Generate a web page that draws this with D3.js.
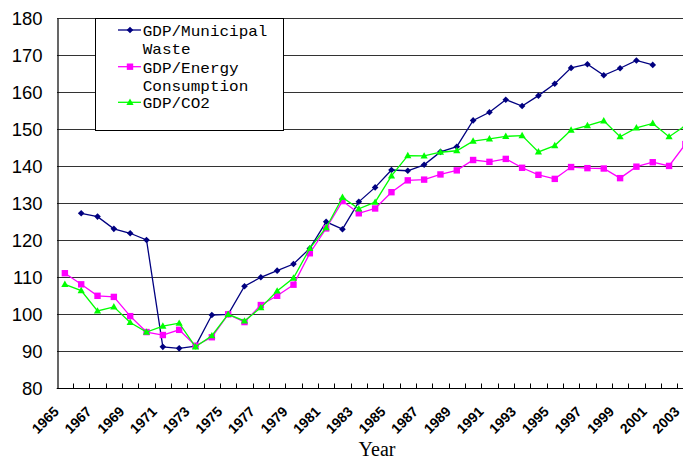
<!DOCTYPE html>
<html><head><meta charset="utf-8">
<script src="https://cdn.jsdelivr.net/npm/d3@7"></script>
<style>html,body{margin:0;padding:0;background:#fff;overflow:hidden}</style>
</head><body>
<svg id="chart" width="683" height="461"></svg>
<script>
const years = ["1965","1966","1967","1968","1969","1970","1971","1972","1973","1974","1975","1976","1977","1978","1979","1980","1981","1982","1983","1984","1985","1986","1987","1988","1989","1990","1991","1992","1993","1994","1995","1996","1997","1998","1999","2000","2001","2002","2003"];
const yearLabels = ["1965","1967","1969","1971","1973","1975","1977","1979","1981","1983","1985","1987","1989","1991","1993","1995","1997","1999","2001","2003"];
const yTicks = [80,90,100,110,120,130,140,150,160,170,180];
const municipalWaste = [null,127.3,126.4,123.1,121.9,120.1,91.2,90.8,91.4,99.8,100.0,107.6,110.0,111.8,113.6,117.8,125.0,123.0,130.4,134.3,139.0,138.8,140.4,143.9,145.3,152.4,154.6,158.0,156.3,159.1,162.3,166.6,167.6,164.6,166.5,168.6,167.4,null,null];
const energy = [111.1,108.1,105.0,104.7,99.5,95.2,94.4,95.8,91.5,93.8,100.0,97.9,102.5,105.0,108.0,116.5,123.2,130.6,127.3,128.6,133.0,136.2,136.4,137.8,138.9,141.7,141.2,142.0,139.6,137.7,136.6,139.8,139.5,139.4,136.8,139.9,141.1,140.1,146.0];
const co2 = [108.1,106.4,100.9,102.0,97.8,95.2,96.8,97.6,91.2,94.2,100.0,98.2,101.8,106.3,109.8,117.8,123.4,131.6,128.5,130.3,137.4,142.9,142.8,143.8,144.2,146.8,147.4,148.1,148.3,143.9,145.6,149.8,151.0,152.3,148.0,150.4,151.6,148.0,151.0];
const seriesNames = [["GDP/Municipal","Waste"],["GDP/Energy","Consumption"],["GDP/CO2"]];

const svg = d3.select("#chart");
svg.append("rect").attr("width",683).attr("height",461).attr("fill","#fff");

const x = d3.scaleBand().domain(years).range([56.7, 56.7 + 16.33*39]).padding(0);
const y = d3.scaleLinear().domain([80,180]).range([388.3, 18.3]);
const cx = d => x(d) + x.bandwidth()/2;

// gridlines
svg.append("g").selectAll("line").data(yTicks.filter(v=>v>80)).join("line")
  .attr("x1",57).attr("x2",700)
  .attr("y1",d=>Math.round(y(d))+0.5).attr("y2",d=>Math.round(y(d))+0.5)
  .attr("stroke","#333").attr("stroke-width",1);

// y axis
const yAxis = d3.axisLeft(y).tickValues(yTicks).tickSize(0).tickPadding(15).tickFormat(d3.format("d"));
const gy = svg.append("g").attr("transform","translate(57.5,0)").call(yAxis);
gy.select(".domain").attr("stroke","#000").attr("stroke-width",1.2);
gy.selectAll("text").attr("font-family","'Liberation Sans', Arial, sans-serif").attr("font-size","18.5px").attr("fill","#000");

// x axis with ticks between categories
const gx = svg.append("g").attr("transform",`translate(0,${Math.round(y(80))+0.5})`);
gx.append("line").attr("x1",56.7).attr("x2",700).attr("stroke","#000").attr("stroke-width",1.2);
gx.selectAll("line.tk").data(years).join("line").attr("class","tk")
  .attr("x1",d=>Math.round(x(d)+x.bandwidth())+0.5).attr("x2",d=>Math.round(x(d)+x.bandwidth())+0.5)
  .attr("y1",0).attr("y2",-5).attr("stroke","#000");
gx.selectAll("text").data(yearLabels).join("text")
  .attr("transform",d=>`translate(${cx(d)-5},24) rotate(-45)`)
  .attr("text-anchor","end")
  .attr("font-family","'Liberation Sans', Arial, sans-serif").attr("font-weight","bold").attr("font-size","14px")
  .attr("fill","#000").text(d=>d);

svg.append("text").attr("x",377).attr("y",456).attr("text-anchor","middle")
  .attr("font-family","'Liberation Serif', serif").attr("font-size","20px").attr("fill","#000").text("Year");

// series
const colors = ["#000080","#FF00FF","#00FF00"];
const data = [municipalWaste, energy, co2];
const line = d3.line().defined(d=>d.v!=null).x(d=>cx(d.yr)).y(d=>y(d.v));
function marker(g, type, color){
  if(type===0) g.append("path").attr("d","M0,-3.3L3.3,0L0,3.3L-3.3,0Z").attr("fill",color);
  else if(type===1) g.append("rect").attr("x",-3.2).attr("y",-3.2).attr("width",6.4).attr("height",6.4).attr("fill",color);
  else g.append("path").attr("d","M0,-3.8L3.6,2.6L-3.6,2.6Z").attr("fill",color);
}
data.forEach((arr,i)=>{
  const pts = years.map((yr,j)=>({yr, v:arr[j]}));
  const g = svg.append("g");
  g.append("path").datum(pts).attr("d",line).attr("fill","none").attr("stroke",colors[i]).attr("stroke-width",1.3);
  pts.filter(p=>p.v!=null).forEach(p=>{
    marker(g.append("g").attr("transform",`translate(${cx(p.yr)},${y(p.v)})`), i, colors[i]);
  });
});

// legend
const lg = svg.append("g");
lg.append("rect").attr("x",95.5).attr("y",18.5).attr("width",188).attr("height",112).attr("fill","#fff").attr("stroke","#000").attr("stroke-width",1);
const legendRows = [[36,54.3],[72.7,90.7],[108.3]];
seriesNames.forEach((names,i)=>{
  const my = legendRows[i][0]-6;
  lg.append("line").attr("x1",118).attr("x2",141).attr("y1",my).attr("y2",my).attr("stroke",colors[i]).attr("stroke-width",1.3);
  marker(lg.append("g").attr("transform",`translate(130,${my})`), i, colors[i]);
  names.forEach((t,k)=>{
    lg.append("text").attr("x",142.7).attr("y",legendRows[i][k])
      .attr("font-family","'Liberation Mono', monospace").attr("font-size","15px")
      .attr("textLength", t.length*9.6).attr("lengthAdjust","spacingAndGlyphs")
      .attr("fill","#000").text(t);
  });
});
</script>
</body></html>
